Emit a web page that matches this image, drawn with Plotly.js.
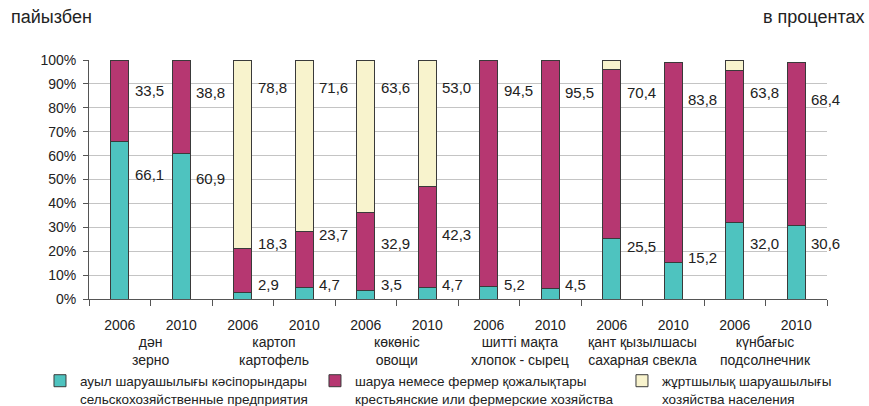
<!DOCTYPE html>
<html>
<head>
<meta charset="utf-8">
<script src="https://cdn.plot.ly/plotly-3.0.1.min.js"></script>
<style>html,body{margin:0;padding:0;background:#fff;}#chart{width:869px;height:406px;}</style>
</head>
<body>
<div id="chart"></div>
<script>
// ---- data ----
const years = ['2006','2010','2006','2010','2006','2010','2006','2010','2006','2010','2006','2010'];
const cropsKz = ['дән','картоп','көкөніс','шитті мақта','қант қызылшасы','күнбағыс'];
const cropsRu = ['зерно','картофель','овощи','хлопок - сырец','сахарная свекла','подсолнечник'];
const agriEnterprises = [66.1, 60.9, 2.9, 4.7, 3.5, 4.7, 5.2, 4.5, 25.5, 15.2, 32.0, 30.6];
const farms = [33.5, 38.8, 18.3, 23.7, 32.9, 42.3, 94.5, 95.5, 70.4, 83.8, 63.8, 68.4];
const households = [0.4, 0.3, 78.8, 71.6, 63.6, 53.0, 0.3, 0, 4.1, 0, 4.2, 0];
const householdsLabelled = [true, true, true, true, true, true, false, false, false, false, false, false];
const seriesNames = [
  'ауыл шаруашылығы кәсіпорындары<br>сельскохозяйственные предприятия',
  'шаруа немесе фермер қожалықтары<br>крестьянские или фермерские хозяйства',
  'жұртшылық шаруашылығы<br>хозяйства населения'
];

// ---- styling ----
const colors = ['#4EC3BF', '#B63771', '#F8F3CD'];
const legendIds = ['legend', 'legend2', 'legend3'];
const legendX = [-0.0664, 0.3062, 0.7222];
const keys = years.map((y, i) => cropsRu[Math.floor(i / 2)] + ' ' + y);
const fmt = v => v.toFixed(1).replace('.', ',');

// label vertical placement (percent scale), chosen to match the original layout
const labelPosA = [52, 50.5, 6, 6, 6, 6, 6, 6, 22, 17.5, 23.4, 23.4];
const labelPosB = [87.4, 86.2, 23.4, 26.8, 23.4, 26.8, 87.4, 86.2, 86.2, 83.3, 86.2, 83.3];
const labelPosC = [105.5, 105.5, 88.6, 88.3, 88.3, 88.3];

const series = [agriEnterprises, farms, households];
const traces = series.map((vals, s) => ({
  type: 'bar',
  x: keys,
  y: vals,
  name: seriesNames[s],
  legend: legendIds[s],
  width: 0.29,
  marker: {color: colors[s], line: {color: '#3a3a3a', width: 1}},
  hoverinfo: 'y+name'
}));

const annotations = [];
const lab = (i, v, yy, center) => annotations.push({
  x: i, y: yy, xref: 'x', yref: 'y', text: fmt(v), showarrow: false,
  xanchor: center ? 'center' : 'left', xshift: center ? 0 : 13,
  font: {size: 15, color: '#222'}
});
agriEnterprises.forEach((v, i) => lab(i, v, labelPosA[i], false));
farms.forEach((v, i) => lab(i, v, labelPosB[i], false));
households.forEach((v, i) => {
  if (!householdsLabelled[i]) return;
  lab(i, v, labelPosC[i], labelPosC[i] > 100);
});
cropsKz.forEach((c, g) => annotations.push({
  x: g * 2 + 0.5, y: 0, xref: 'x', yref: 'y', yanchor: 'top', yshift: -33,
  text: c + '<br>' + cropsRu[g], showarrow: false, align: 'center',
  font: {size: 14, color: '#222'}
}));
annotations.push({
  xref: 'paper', yref: 'paper', x: -0.108, y: 1.18, xanchor: 'left', yanchor: 'middle',
  text: 'пайызбен', showarrow: false, font: {size: 18, color: '#222'}
});
annotations.push({
  xref: 'paper', yref: 'paper', x: 1.0528, y: 1.18, xanchor: 'right', yanchor: 'middle',
  text: 'в процентах', showarrow: false, font: {size: 18, color: '#222'}
});

const layout = {
  width: 869, height: 406,
  margin: {l: 89, r: 42, t: 60, b: 107, pad: 0, autoexpand: false},
  paper_bgcolor: '#fff', plot_bgcolor: '#fff',
  font: {family: 'Liberation Sans, Arial, sans-serif', size: 14, color: '#222'},
  barmode: 'stack',
  showlegend: true,
  xaxis: {
    type: 'category',
    tickmode: 'array', tickvals: keys, ticktext: years,
    tickson: 'boundaries', ticks: 'outside', ticklen: 6, tickcolor: '#555',
    ticklabelstandoff: 13,
    showline: true, linecolor: '#555', linewidth: 1,
    showgrid: false, zeroline: false,
    tickfont: {size: 14, color: '#222'},
    range: [-0.5, 11.5]
  },
  yaxis: {
    range: [0, 100], dtick: 10, ticksuffix: '%',
    ticks: 'outside', ticklen: 5, tickcolor: '#555',
    showline: true, linecolor: '#555', linewidth: 1,
    showgrid: true, gridcolor: '#c4c4c4', gridwidth: 1, zeroline: false,
    tickfont: {size: 14, color: '#222'}, ticklabelstandoff: 4
  },
  annotations: annotations
};
legendIds.forEach((id, s) => {
  layout[id] = {
    orientation: 'h', x: legendX[s], xanchor: 'left', y: -0.278, yanchor: 'top',
    valign: 'top', itemwidth: 30, bgcolor: 'rgba(0,0,0,0)',
    font: {size: 13.5, color: '#222'}
  };
});

Plotly.newPlot('chart', traces, layout, {displayModeBar: false, staticPlot: true});
</script>
</body>
</html>
